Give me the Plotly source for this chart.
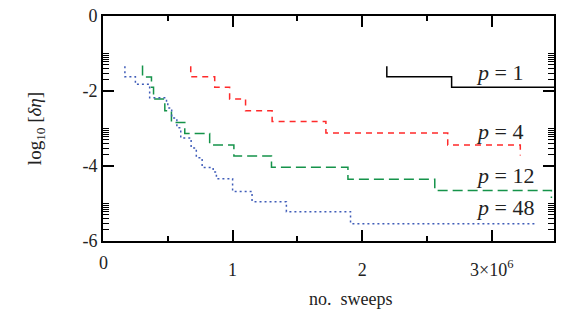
import numpy as np
import plotly.graph_objects as go

# step series: (x where a level starts [1e6 sweeps], level log10 dEta)
p1_x = [2.19, 2.19, 2.69, 3.48]
p1_y = [-1.34, -1.62, -1.90, -1.90]

p4_x = [0.677, 0.677, 0.862, 0.977, 1.10, 1.305, 1.72, 2.66, 3.22]
p4_y = [-1.34, -1.62, -1.90, -2.21, -2.53, -2.81, -3.12, -3.44, -3.72]

p12_x = [0.305, 0.305, 0.374, 0.39, 0.477, 0.528, 0.631, 0.823, 1.01, 1.30, 1.89, 2.56, 3.46]
p12_y = [-1.32, -1.63, -1.90, -2.21, -2.53, -2.84, -3.13, -3.44, -3.73, -4.03, -4.35, -4.65, -4.85]

p48_x = [0.169, 0.169, 0.25, 0.36, 0.49, 0.50, 0.53, 0.57, 0.60, 0.68, 0.72, 0.765, 0.85, 0.875,
         1.00, 1.15, 1.415, 1.91, 3.35]
p48_y = [-1.34, -1.62, -1.82, -2.18, -2.30, -2.45, -2.72, -2.98, -3.25, -3.52, -3.78, -4.04, -4.16,
         -4.34, -4.68, -4.95, -5.22, -5.54, -5.54]

labels = ["<i>p</i> = 1", "<i>p</i> = 4", "<i>p</i> = 12", "<i>p</i> = 48"]
label_y = [-1.51, -3.07, -4.24, -5.11]

x_tickvals = [1, 2, 3]
x_ticktext = ["1", "2", "3×10<sup>6</sup>"]
y_tickvals = [0, -2, -4, -6]
y_ticktext = ["0", "-2", "-4", "-6"]

FONT = "'Liberation Serif', 'DejaVu Serif', 'Times New Roman', serif"

fig = go.Figure()
fig.add_trace(go.Scatter(x=p1_x, y=p1_y, mode="lines", line_shape="hv",
                         line=dict(color="black", width=1.5)))
fig.add_trace(go.Scatter(x=p4_x, y=p4_y, mode="lines", line_shape="hv",
                         line=dict(color="#ff2a2a", width=1.5, dash="6px,5px")))
fig.add_trace(go.Scatter(x=p12_x, y=p12_y, mode="lines", line_shape="hv",
                         line=dict(color="#15934a", width=1.5, dash="10px,5px")))
fig.add_trace(go.Scatter(x=p48_x, y=p48_y, mode="lines", line_shape="hv",
                         line=dict(color="#3f5cb8", width=1.5, dash="2px,3px")))

for t, yv in zip(labels, label_y):
    fig.add_annotation(x=2.86, y=yv, text=t, showarrow=False, xanchor="left", yanchor="middle",
                       font=dict(family=FONT, size=22, color="#222"))

# corner "0" label of x axis and axis title
fig.add_annotation(x=0, y=0, xref="x", yref="paper", text="0", showarrow=False,
                   yanchor="middle", yshift=-22, font=dict(family=FONT, size=18, color="#222"))
fig.add_annotation(x=0.55, y=0, xref="paper", yref="paper", text="no.  sweeps", showarrow=False,
                   yanchor="middle", yshift=-58, font=dict(family=FONT, size=18, color="#222"))

minor_y = []
for d in [-2, -4, -6]:
    for k in range(2, 11):
        minor_y.append(d + np.log10(k))

fig.update_layout(
    width=562, height=324,
    margin=dict(l=103, r=6, t=10, b=83),
    paper_bgcolor="white", plot_bgcolor="white",
    showlegend=False,
    font=dict(family=FONT, size=18, color="#222"),
    xaxis=dict(range=[0, 3.48], tickmode="array", tickvals=x_tickvals, ticktext=x_ticktext,
               ticks="inside", ticklen=11, tickwidth=1.5, tickcolor="black",
               ticklabelstandoff=11,
               showline=True, linecolor="black", linewidth=2, mirror="allticks",
               showgrid=False, zeroline=False,
               minor=dict(tickmode="array", tickvals=[0.5, 1.5, 2.5], ticks="inside",
                          ticklen=5, tickwidth=1.5, tickcolor="black", showgrid=False)),
    yaxis=dict(range=[-6, 0], tickmode="array", tickvals=y_tickvals, ticktext=y_ticktext,
               ticks="inside", ticklen=11, tickwidth=1.5, tickcolor="black",
               showline=True, linecolor="black", linewidth=2, mirror="allticks",
               showgrid=False, zeroline=False,
               title=dict(text="log<sub>10</sub> [<i>δη</i>]", standoff=36,
                          font=dict(family=FONT, size=19)),
               minor=dict(tickmode="array", tickvals=minor_y, ticks="inside",
                          ticklen=6, tickwidth=1.2, tickcolor="black", showgrid=False)),
)

fig.write_html("out.html", config={"displayModeBar": False},
               post_script="document.body.style.margin='0';")
